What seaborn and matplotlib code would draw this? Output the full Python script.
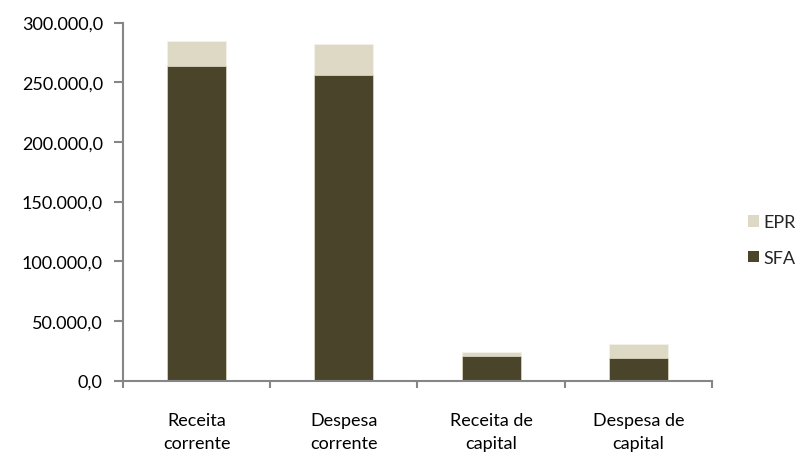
import matplotlib
matplotlib.use("Agg")
import matplotlib.pyplot as plt
import seaborn as sns
import pandas as pd
from matplotlib.patches import Patch
from matplotlib.ticker import FuncFormatter, FixedLocator

categories = ["Receita\ncorrente", "Despesa\ncorrente", "Receita de\ncapital", "Despesa de\ncapital"]
sfa = [263200, 256200, 20400, 19000]
epr = [21300, 25400, 3100, 11500]
yticks = [0, 50000, 100000, 150000, 200000, 250000, 300000]

sns.set_theme(style="white")
plt.rcParams['font.family'] = ['Lato', 'DejaVu Sans']

df = pd.DataFrame({"cat": categories, "SFA": sfa, "EPR": epr})
df["total"] = df["SFA"] + df["EPR"]

c_sfa = "#4A452A"
c_epr = "#DDD9C4"
FS = 13

fig = plt.figure(figsize=(7.95, 4.56), dpi=100)
ax = fig.add_axes([123/795, 1-381.5/456, (712-123)/795, (381.5-23.5)/456])

sns.barplot(data=df, x="cat", y="total", color=c_epr, width=0.4, ax=ax,
            edgecolor="#f4f2ea", linewidth=0.6, saturation=1)
sns.barplot(data=df, x="cat", y="SFA", color=c_sfa, width=0.4, ax=ax,
            edgecolor="#d8d4c0", linewidth=0.6, saturation=1)

ax.set_xlim(-0.5, 3.5)
ax.set_ylim(0, 300000)
ax.set_yticks(yticks)
fmt = lambda v, p: f"{v:,.1f}".replace(",", "X").replace(".", ",").replace("X", ".")
ax.yaxis.set_major_formatter(FuncFormatter(fmt))
ax.set_xlabel("")
ax.set_ylabel("")

ax.xaxis.set_minor_locator(FixedLocator([-0.5, 0.5, 1.5, 2.5, 3.5]))
ax.tick_params(axis="x", which="major", length=0, pad=22.5, labelsize=FS, colors="black")
ax.tick_params(axis="x", which="minor", length=5, width=1.5, color="#868686", bottom=True, direction="out")
ax.tick_params(axis="y", which="major", length=6.5, width=1.5, color="#868686", left=True, direction="out",
               labelsize=FS, labelcolor="black", pad=8)
for lab in ax.get_xticklabels():
    lab.set_linespacing(1.55)

for s in ["top", "right"]:
    ax.spines[s].set_visible(False)
for s in ["left", "bottom"]:
    ax.spines[s].set_color("#868686")
    ax.spines[s].set_linewidth(1.5)

handles = [Patch(facecolor=c_epr, edgecolor="none"), Patch(facecolor=c_sfa, edgecolor="none")]
fig.legend(handles, ["EPR", "SFA"], loc="center left", bbox_to_anchor=(748/795, 1-241/456),
           frameon=False, fontsize=FS, handlelength=0.62, handleheight=0.62, handletextpad=0.25,
           labelspacing=1.1, borderpad=0, borderaxespad=0)

fig.savefig("out.png", dpi=100)
